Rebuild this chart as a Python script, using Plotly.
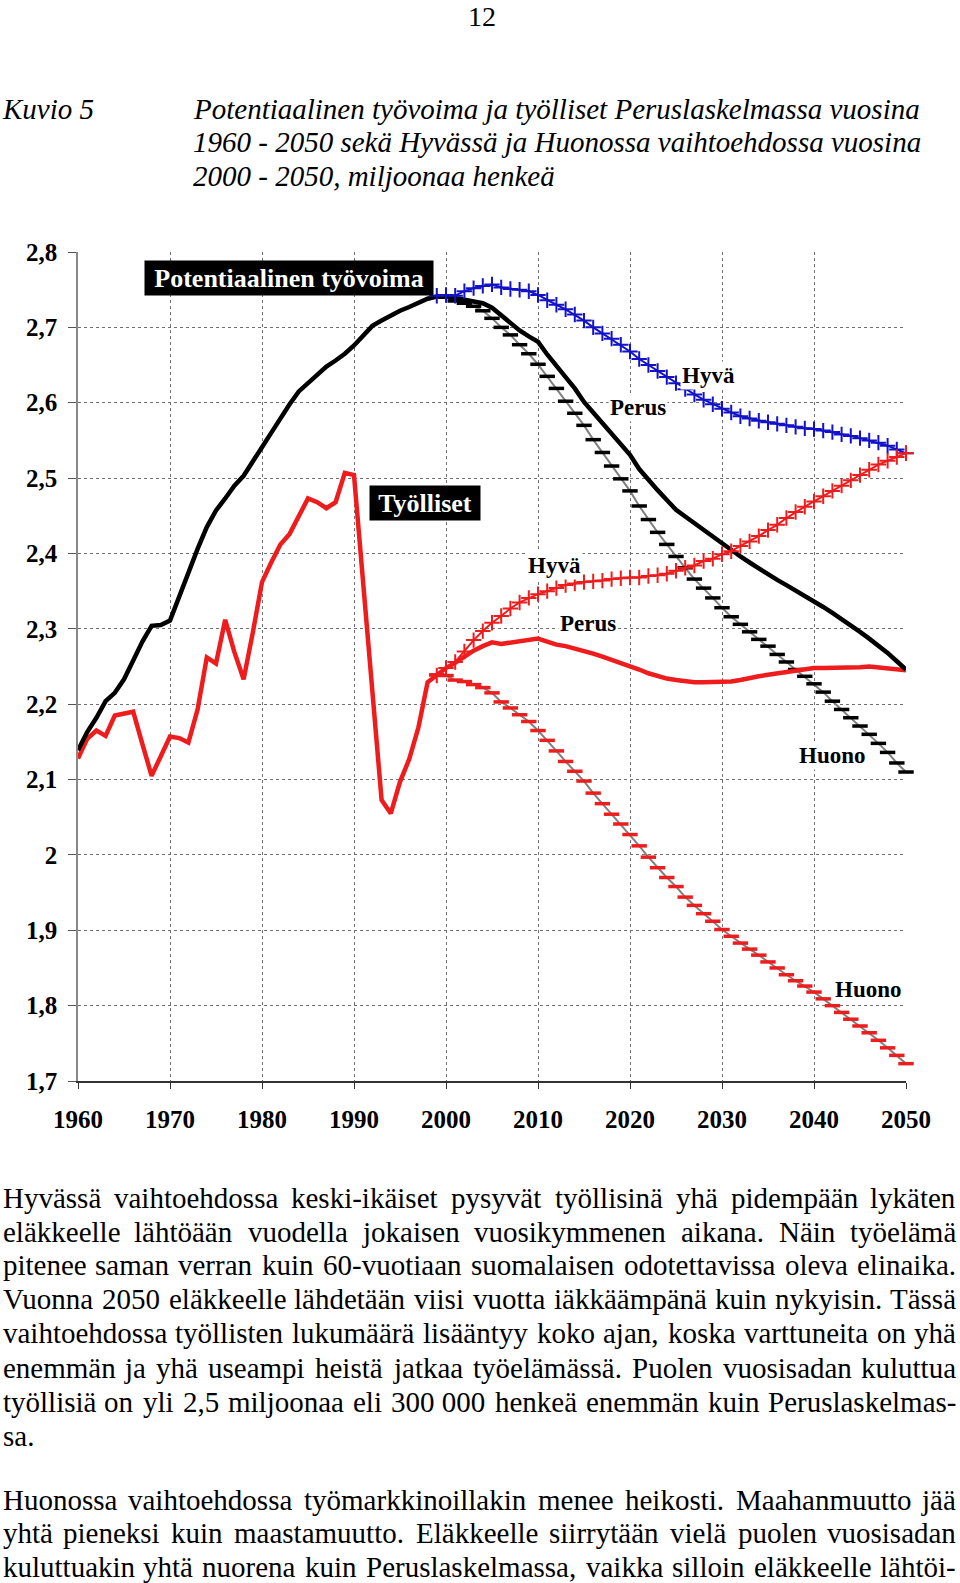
import plotly.graph_objects as go

# ---------------- data ----------------
years_all = list(range(1960, 2051))
potential_perus = [
    2.139, 2.163, 2.182, 2.204, 2.215, 2.233, 2.258, 2.283, 2.304, 2.305,
    2.311, 2.344, 2.373, 2.406, 2.435, 2.457, 2.473, 2.490, 2.503, 2.521,
    2.541, 2.560, 2.580, 2.598, 2.615, 2.626, 2.637, 2.648, 2.656, 2.665,
    2.676, 2.690, 2.702, 2.709, 2.716, 2.722, 2.727, 2.733, 2.738, 2.741,
    2.741, 2.739, 2.737, 2.735, 2.732, 2.726, 2.716, 2.706, 2.696, 2.688,
    2.681, 2.664, 2.648, 2.634, 2.619, 2.601, 2.587, 2.573, 2.559, 2.546,
    2.531, 2.512, 2.497, 2.484, 2.471, 2.458, 2.449, 2.440, 2.431, 2.423,
    2.413, 2.404, 2.396, 2.388, 2.380, 2.372, 2.365, 2.358, 2.351, 2.344,
    2.337, 2.329, 2.321, 2.313, 2.304, 2.296, 2.287, 2.278, 2.268, 2.257,
    2.246]
employed_perus = [
    2.128, 2.154, 2.165, 2.158, 2.185, 2.187, 2.190, 2.147, 2.105, 2.131,
    2.157, 2.155, 2.149, 2.193, 2.262, 2.254, 2.312, 2.269, 2.233, 2.295,
    2.362, 2.388, 2.412, 2.426, 2.450, 2.473, 2.468, 2.460, 2.468, 2.507,
    2.504, 2.360, 2.215, 2.073, 2.055, 2.097, 2.127, 2.169, 2.229, 2.238,
    2.248, 2.255, 2.263, 2.271, 2.277, 2.282, 2.280, 2.282, 2.284, 2.286,
    2.287, 2.283, 2.279, 2.277, 2.274, 2.270, 2.267, 2.263, 2.259, 2.254,
    2.250, 2.246, 2.241, 2.237, 2.234, 2.232, 2.230, 2.229, 2.229, 2.229,
    2.229, 2.230, 2.232, 2.235, 2.237, 2.239, 2.241, 2.243, 2.245, 2.246,
    2.248, 2.248, 2.248, 2.248, 2.249, 2.249, 2.250, 2.249, 2.248, 2.247,
    2.245]

years_scen = list(range(1999, 2051))
potential_hyva = [
    2.742, 2.743, 2.742, 2.748, 2.752, 2.755, 2.757, 2.753, 2.751, 2.750,
    2.748, 2.743, 2.736, 2.730, 2.724, 2.717, 2.709, 2.700, 2.692, 2.685,
    2.677, 2.668, 2.658, 2.650, 2.642, 2.634, 2.626, 2.618, 2.611, 2.604,
    2.598, 2.592, 2.587, 2.582, 2.579, 2.576, 2.574, 2.572, 2.570, 2.568,
    2.566, 2.565, 2.563, 2.561, 2.558, 2.556, 2.553, 2.550, 2.547, 2.543,
    2.538, 2.533]
employed_hyva = [
    2.238, 2.248, 2.256, 2.270, 2.285, 2.297, 2.308, 2.317, 2.327, 2.335,
    2.341, 2.346, 2.350, 2.354, 2.358, 2.360, 2.362, 2.363, 2.364, 2.366,
    2.367, 2.368, 2.368, 2.370, 2.371, 2.373, 2.377, 2.381, 2.384, 2.390,
    2.393, 2.399, 2.403, 2.410, 2.416, 2.423, 2.431, 2.438, 2.447, 2.455,
    2.462, 2.469, 2.476, 2.483, 2.490, 2.497, 2.504, 2.511, 2.518, 2.523,
    2.528, 2.533]
employed_huono = [
    2.239, 2.238, 2.232, 2.230, 2.226, 2.222, 2.215, 2.203, 2.195, 2.186,
    2.177, 2.165, 2.152, 2.138, 2.124, 2.111, 2.098, 2.082, 2.068, 2.054,
    2.041, 2.027, 2.012, 1.997, 1.983, 1.970, 1.958, 1.944, 1.933, 1.922,
    1.912, 1.901, 1.892, 1.883, 1.875, 1.867, 1.858, 1.850, 1.841, 1.833,
    1.826, 1.818, 1.809, 1.800, 1.791, 1.782, 1.773, 1.764, 1.754, 1.744,
    1.734, 1.723]

years_pot_huono = list(range(2000, 2051))
potential_huono = [
    2.740, 2.735, 2.732, 2.728, 2.722, 2.712, 2.700, 2.690, 2.677, 2.665,
    2.651, 2.635, 2.619, 2.602, 2.586, 2.570, 2.551, 2.534, 2.516, 2.499,
    2.483, 2.463, 2.445, 2.428, 2.412, 2.396, 2.381, 2.366, 2.354, 2.341,
    2.328, 2.316, 2.306, 2.296, 2.286, 2.277, 2.266, 2.256, 2.246, 2.237,
    2.227, 2.216, 2.204, 2.193, 2.182, 2.171, 2.160, 2.148, 2.136, 2.122,
    2.110]

x_tickvals = [1960, 1970, 1980, 1990, 2000, 2010, 2020, 2030, 2040, 2050]
y_tickvals = [1.7, 1.8, 1.9, 2.0, 2.1, 2.2, 2.3, 2.4, 2.5, 2.6, 2.7, 2.8]
y_ticktext = ["1,7", "1,8", "1,9", "2", "2,1", "2,2", "2,3", "2,4", "2,5", "2,6", "2,7", "2,8"]

# in-chart labels: (text, year, value)
series_labels = [
    ("Hyvä", 2028.5, 2.636),
    ("Perus", 2020.9, 2.594),
    ("Hyvä", 2011.8, 2.384),
    ("Perus", 2015.4, 2.307),
    ("Huono", 2042.0, 2.132),
    ("Huono", 2045.9, 1.821),
]

page_number = "12"
fig_label = "Kuvio 5"
title_lines = [
    "Potentiaalinen työvoima ja työlliset Peruslaskelmassa vuosina",
    "1960 - 2050 sekä Hyvässä ja Huonossa vaihtoehdossa vuosina",
    "2000 - 2050, miljoonaa henkeä",
]
body_lines = [
    ("Hyvässä vaihtoehdossa keski-ikäiset pysyvät työllisinä yhä pidempään lykäten", True),
    ("eläkkeelle lähtöään vuodella jokaisen vuosikymmenen aikana. Näin työelämä", True),
    ("pitenee saman verran kuin 60-vuotiaan suomalaisen odotettavissa oleva elinaika.", True),
    ("Vuonna 2050 eläkkeelle lähdetään viisi vuotta iäkkäämpänä kuin nykyisin. Tässä", True),
    ("vaihtoehdossa työllisten lukumäärä lisääntyy koko ajan, koska varttuneita on yhä", True),
    ("enemmän ja yhä useampi heistä jatkaa työelämässä. Puolen vuosisadan kuluttua", True),
    ("työllisiä on yli 2,5 miljoonaa eli 300\u00a0000 henkeä enemmän kuin Peruslaskelmas-", True),
    ("sa.", False),
    ("Huonossa vaihtoehdossa työmarkkinoillakin menee heikosti. Maahanmuutto jää", True),
    ("yhtä pieneksi kuin maastamuutto. Eläkkeelle siirrytään vielä puolen vuosisadan", True),
    ("kuluttuakin yhtä nuorena kuin Peruslaskelmassa, vaikka silloin eläkkeelle lähtöi-", True),
]

# ---------------- layout constants ----------------
W, H = 960, 1583
PL, PR, PT, PB = 78, 906, 252, 1081
SERIF = "Liberation Serif, Times New Roman, serif"
RED = "#ee1c1c"
BLUE = "#1212c8"
GRAY = "#808080"

def px(x):
    return x / W

def py(y):
    return 1 - y / H

fig = go.Figure()

# Huono scenarios: gray connecting line + dash markers
fig.add_trace(go.Scatter(
    x=years_pot_huono, y=potential_huono, mode="lines+markers",
    line=dict(color=GRAY, width=2),
    marker=dict(symbol="line-ew", size=11, line=dict(color="black", width=3.5)),
    cliponaxis=False, showlegend=False))
fig.add_trace(go.Scatter(
    x=years_scen, y=employed_huono, mode="lines+markers",
    line=dict(color=GRAY, width=2),
    marker=dict(symbol="line-ew", size=11, line=dict(color=RED, width=3.5)),
    cliponaxis=False, showlegend=False))
# Perus
fig.add_trace(go.Scatter(
    x=years_all, y=employed_perus, mode="lines",
    line=dict(color=RED, width=4.5), cliponaxis=False, showlegend=False))
fig.add_trace(go.Scatter(
    x=years_all, y=potential_perus, mode="lines",
    line=dict(color="black", width=4.5), cliponaxis=False, showlegend=False))
# Hyvä
fig.add_trace(go.Scatter(
    x=years_scen, y=potential_hyva, mode="lines+markers",
    line=dict(color=BLUE, width=2),
    marker=dict(symbol="cross-thin", size=11, line=dict(color=BLUE, width=2)),
    cliponaxis=False, showlegend=False))
fig.add_trace(go.Scatter(
    x=years_scen, y=employed_hyva, mode="lines+markers",
    line=dict(color=RED, width=2),
    marker=dict(symbol="cross-thin", size=11, line=dict(color=RED, width=2)),
    cliponaxis=False, showlegend=False))

annotations = []

# series labels
for txt, xv, yv in series_labels:
    annotations.append(dict(
        x=xv, y=yv, xref="x", yref="y", text=txt, showarrow=False,
        font=dict(family=SERIF, size=23, color="black", weight="bold"),
        bgcolor="white", borderpad=1, xanchor="center", yanchor="middle"))

# black boxes
annotations.append(dict(
    x=px(289), y=py(278), xref="paper", yref="paper", text="Potentiaalinen työvoima",
    showarrow=False, font=dict(family=SERIF, size=26, color="white", weight="bold"),
    bgcolor="black", width=284, height=30, borderpad=2, xanchor="center", yanchor="middle"))
annotations.append(dict(
    x=px(425), y=py(503), xref="paper", yref="paper", text="Työlliset",
    showarrow=False, font=dict(family=SERIF, size=26, color="white", weight="bold"),
    bgcolor="black", width=106, height=30, borderpad=2, xanchor="center", yanchor="middle"))

# header / title
annotations.append(dict(
    x=px(482), y=py(0), xref="paper", yref="paper", text=page_number, showarrow=False,
    font=dict(family=SERIF, size=28, color="black"), borderpad=0,
    xanchor="center", yanchor="top"))
annotations.append(dict(
    x=px(0), y=py(109), xref="paper", yref="paper", text=fig_label, showarrow=False,
    font=dict(family=SERIF, size=29, color="black", style="italic"),
    xanchor="left", yanchor="middle"))
for i, line in enumerate(title_lines):
    annotations.append(dict(
        x=px(191), y=py(109 + i * 33.5), xref="paper", yref="paper", text=line,
        showarrow=False, font=dict(family=SERIF, size=29, color="black", style="italic"),
        xanchor="left", yanchor="middle"))

# body text, justified using Times metrics
CW = {
    'a': 444, 'b': 500, 'c': 444, 'd': 500, 'e': 444, 'f': 333, 'g': 500, 'h': 500,
    'i': 278, 'j': 278, 'k': 500, 'l': 278, 'm': 778, 'n': 500, 'o': 500, 'p': 500,
    'q': 500, 'r': 333, 's': 389, 't': 278, 'u': 500, 'v': 500, 'w': 722, 'x': 500,
    'y': 500, 'z': 444, 'ä': 444, 'ö': 500, 'å': 444,
    'A': 722, 'B': 667, 'C': 667, 'D': 722, 'E': 611, 'F': 556, 'G': 722, 'H': 722,
    'I': 333, 'J': 389, 'K': 722, 'L': 611, 'M': 889, 'N': 722, 'O': 722, 'P': 556,
    'R': 667, 'S': 556, 'T': 611, 'U': 722, 'V': 722, 'W': 944, 'Y': 722, 'Ä': 722,
    'Ö': 722, ' ': 250, '\u00a0': 250, '.': 250, ',': 250, '-': 333,
}
BODY = 29

def tw(s, size):
    return sum(CW.get(c, 500) for c in s) * size / 1000

body_y = [1198, 1232, 1265, 1299, 1333, 1368, 1402, 1436, 1500, 1533, 1567]
LEFT, RIGHT = 2, 957
for (txt, just), yc in zip(body_lines, body_y):
    font = dict(family=SERIF, size=BODY, color="black")
    if not just:
        annotations.append(dict(x=px(LEFT), y=py(yc), xref="paper", yref="paper",
                                text=txt, showarrow=False, font=font, borderpad=0,
                                xanchor="left", yanchor="middle"))
        continue
    words = txt.split(" ")
    widths = [tw(w, BODY) for w in words]
    gap = (RIGHT - LEFT - sum(widths)) / (len(words) - 1)
    xcur = LEFT
    for i, (wd, wwid) in enumerate(zip(words, widths)):
        if i == 0:
            xa, xpos = "left", xcur
        elif i == len(words) - 1:
            xa, xpos = "right", RIGHT
        else:
            xa, xpos = "center", xcur + wwid / 2
        annotations.append(dict(x=px(xpos), y=py(yc), xref="paper", yref="paper",
                                text=wd, showarrow=False, font=font, borderpad=0,
                                xanchor=xa, yanchor="middle"))
        xcur += wwid + gap

fig.update_layout(
    width=W, height=H, template="none",
    margin=dict(l=0, r=0, t=0, b=0, pad=0),
    paper_bgcolor="white", plot_bgcolor="white",
    showlegend=False,
    xaxis=dict(
        domain=[PL / W, PR / W], range=[1960, 2050], tickvals=x_tickvals,
        showgrid=True, gridcolor="#707070", griddash="dot", gridwidth=1,
        showline=True, linecolor="#333333", linewidth=1.5, zeroline=False,
        ticks="outside", ticklen=6, tickcolor="#333333", ticklabelstandoff=9,
        tickfont=dict(family=SERIF, size=25, color="black", weight="bold"),
    ),
    yaxis=dict(
        domain=[1 - PB / H, 1 - PT / H], range=[1.7, 2.8],
        tickvals=y_tickvals, ticktext=y_ticktext,
        showgrid=True, gridcolor="#707070", griddash="dot", gridwidth=1,
        showline=True, linecolor="#888888", linewidth=1.5, zeroline=False,
        ticks="outside", ticklen=8, tickcolor="#555555", ticklabelstandoff=6,
        tickfont=dict(family=SERIF, size=25, color="black", weight="bold"),
    ),
    annotations=annotations,
)

fig.write_html("out.html")
